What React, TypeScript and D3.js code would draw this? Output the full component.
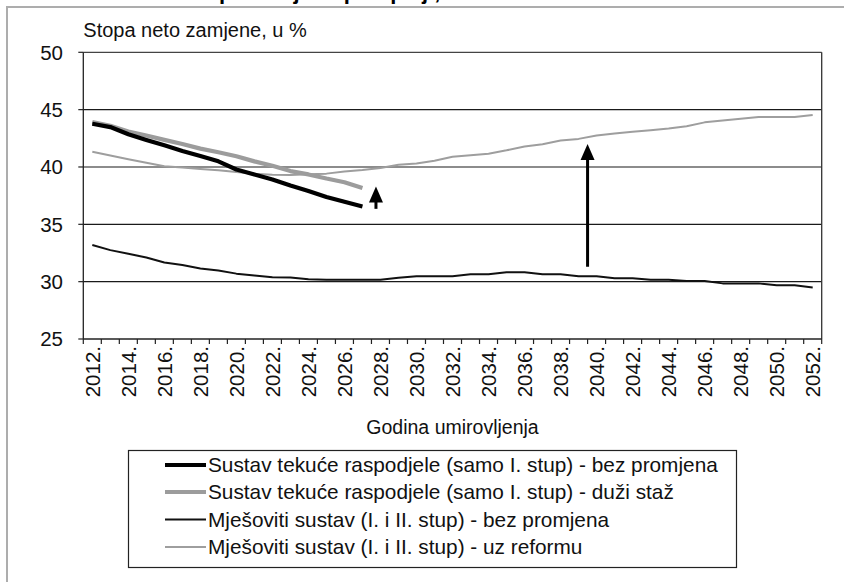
import React from 'react';
import * as d3 from 'd3';

const years: number[] = [
  2012, 2013, 2014, 2015, 2016, 2017, 2018, 2019, 2020, 2021,
  2022, 2023, 2024, 2025, 2026, 2027, 2028, 2029, 2030, 2031,
  2032, 2033, 2034, 2035, 2036, 2037, 2038, 2039, 2040, 2041,
  2042, 2043, 2044, 2045, 2046, 2047, 2048, 2049, 2050, 2051, 2052,
];

const tickYears: number[] = [
  2012, 2014, 2016, 2018, 2020, 2022, 2024, 2026, 2028, 2030,
  2032, 2034, 2036, 2038, 2040, 2042, 2044, 2046, 2048, 2050, 2052,
];

const yTicks: number[] = [25, 30, 35, 40, 45, 50];

// Sustav tekuće raspodjele - bez promjena (2012-2027)
const paygBase: number[] = [
  43.77, 43.48, 42.86, 42.36, 41.89, 41.4, 40.96, 40.49, 39.78, 39.35,
  38.91, 38.38, 37.91, 37.38, 36.97, 36.56,
];
// Sustav tekuće raspodjele - duži staž (2012-2027)
const paygLonger: number[] = [
  43.92, 43.59, 43.1, 42.74, 42.36, 42.01, 41.6, 41.28, 40.93, 40.49,
  40.11, 39.64, 39.35, 38.99, 38.67, 38.17,
];
// Mješoviti sustav - bez promjena (2012-2052)
const mixedBase: number[] = [
  33.19, 32.75, 32.43, 32.11, 31.67, 31.46, 31.14, 30.97, 30.7, 30.53,
  30.38, 30.36, 30.2, 30.17, 30.17, 30.17, 30.17, 30.35, 30.47, 30.47,
  30.47, 30.64, 30.64, 30.82, 30.82, 30.64, 30.64, 30.47, 30.47, 30.29,
  30.29, 30.17, 30.17, 30.06, 30.06, 29.85, 29.85, 29.85, 29.68, 29.68, 29.5,
];
// Mješoviti sustav - uz reformu (2012-2052)
const mixedReform: number[] = [
  41.33, 41.0, 40.68, 40.36, 40.07, 39.95, 39.83, 39.72, 39.57, 39.42,
  39.33, 39.3, 39.36, 39.42, 39.6, 39.74, 39.92, 40.19, 40.3, 40.55,
  40.9, 41.02, 41.16, 41.45, 41.78, 41.98, 42.3, 42.45, 42.74, 42.92,
  43.07, 43.21, 43.36, 43.56, 43.89, 44.06, 44.21, 44.36, 44.36, 44.36, 44.53,
];

const seriesNames: string[] = [
  'Sustav tekuće raspodjele (samo I. stup) - bez promjena',
  'Sustav tekuće raspodjele (samo I. stup) - duži staž',
  'Mješoviti sustav (I. i II. stup) - bez promjena',
  'Mješoviti sustav (I. i II. stup) - uz reformu',
];

// arrows: position (year), start value, end value
const arrowYears: number[] = [2027.75, 2039.5];
const arrowFrom: number[] = [36.35, 31.3];
const arrowTo: number[] = [38.3, 42.0];

const titleText = 'Grafikon 4. Neto stopa zamjene po opciji,';
const yTitle = 'Stopa neto zamjene, u %';
const xTitle = 'Godina umirovljenja';

const W = 844;
const H = 582;
const FONT = '"Liberation Sans", Arial, sans-serif';

export default function App() {
  const left = 83.3;
  const right = 821.7;
  const top = 52.3;
  const bottom = 339;

  const x = d3
    .scaleBand<string>()
    .domain(years.map(String))
    .range([left, right])
    .padding(0);
  const bw = x.bandwidth();
  const cx = (yr: number) => (x(String(yr)) as number) + bw / 2;
  const xLin = d3
    .scaleLinear()
    .domain([years[0], years[years.length - 1]])
    .range([cx(years[0]), cx(years[years.length - 1])]);
  const y = d3.scaleLinear().domain([25, 50]).range([bottom, top]);

  const lineGen = d3
    .line<[number, number]>()
    .x((d) => cx(d[0]))
    .y((d) => y(d[1]));

  const toPts = (vals: number[]) =>
    vals.map((v, i) => [years[i], v] as [number, number]);

  const series = [
    { vals: paygBase, color: '#000000', width: 4.2 },
    { vals: paygLonger, color: '#9c9c9c', width: 4.2 },
    { vals: mixedBase, color: '#111111', width: 2 },
    { vals: mixedReform, color: '#9e9e9e', width: 2 },
  ];
  const drawOrder = [3, 2, 1, 0];

  const boundaries = years.map((yr) => x(String(yr)) as number).concat([right]);

  const legX = 128.5;
  const legY = 450.5;
  const legW = 608;
  const legH = 117;
  const rowY = [465, 492, 519.5, 547];

  return (
    <svg
      width={W}
      height={H}
      style={{ position: 'absolute', left: 0, top: 0, display: 'block', background: '#fff' }}
      fontFamily={FONT}
    >
      <rect x={0} y={0} width={W} height={H} fill="#fff" />
      {/* title, cut by the top edge as in the source */}
      <text x={10} y={-1} fontSize={22} fontWeight="bold" fill="#000">
        {titleText}
      </text>
      {/* outer frame */}
      <line x1={6} x2={W} y1={7} y2={7} stroke="#adadad" strokeWidth={2} />
      <line x1={7} x2={7} y1={6} y2={H} stroke="#adadad" strokeWidth={2} />

      {/* gridlines */}
      {yTicks
        .filter((t) => t !== 25 && t !== 50)
        .map((t) => (
          <line key={'g' + t} x1={left} x2={right} y1={y(t)} y2={y(t)} stroke="#1a1a1a" strokeWidth={1.2} />
        ))}
      {/* plot frame */}
      <line x1={left} x2={right} y1={top} y2={top} stroke="#444" strokeWidth={1.3} />
      <line x1={right} x2={right} y1={top} y2={bottom} stroke="#333" strokeWidth={1.3} />
      <line x1={left} x2={right} y1={bottom} y2={bottom} stroke="#222" strokeWidth={1.3} />
      <line x1={left} x2={left} y1={top} y2={bottom} stroke="#222" strokeWidth={1.3} />

      {/* y ticks & labels */}
      {yTicks.map((t) => (
        <g key={'y' + t}>
          <line x1={left - 5} x2={left} y1={y(t)} y2={y(t)} stroke="#222" strokeWidth={1.2} />
          <text x={63} y={y(t)} dy="0.36em" textAnchor="end" fontSize={20.5} fill="#111">
            {t}
          </text>
        </g>
      ))}

      {/* x ticks */}
      {boundaries.map((b, i) => (
        <line key={'xt' + i} x1={b} x2={b} y1={bottom} y2={bottom + 5} stroke="#222" strokeWidth={1.2} />
      ))}
      {tickYears.map((yr) => (
        <text
          key={'xl' + yr}
          transform={`translate(${cx(yr)},${bottom + 7}) rotate(-90)`}
          textAnchor="end"
          dy="0.36em"
          fontSize={20.5}
          fill="#111"
        >
          {yr + '.'}
        </text>
      ))}

      {/* axis titles */}
      <text x={left} y={37} fontSize={20} fill="#111">
        {yTitle}
      </text>
      <text x={(left + right) / 2} y={434} textAnchor="middle" fontSize={19.5} fill="#111">
        {xTitle}
      </text>

      {/* series */}
      {drawOrder.map((si) => {
        const s = series[si];
        return (
          <path
            key={'s' + si}
            d={lineGen(toPts(s.vals)) || ''}
            fill="none"
            stroke={s.color}
            strokeWidth={s.width}
            strokeLinejoin="round"
          />
        );
      })}

      {/* arrows */}
      {arrowYears.map((ay, i) => {
        const ax = xLin(ay);
        const y0 = y(arrowFrom[i]);
        const y1 = y(arrowTo[i]);
        const headL = 16;
        const headW = 7;
        return (
          <g key={'a' + i}>
            <line x1={ax} x2={ax} y1={y0} y2={y1 + headL - 1} stroke="#000" strokeWidth={3} />
            <path
              d={`M${ax},${y1} L${ax - headW},${y1 + headL} L${ax + headW},${y1 + headL} Z`}
              fill="#000"
            />
          </g>
        );
      })}

      {/* legend */}
      <rect x={legX} y={legY} width={legW} height={legH} fill="#fff" stroke="#222" strokeWidth={1.2} />
      {series.map((s, i) => (
        <g key={'l' + i}>
          <line x1={165} x2={206} y1={rowY[i]} y2={rowY[i]} stroke={s.color} strokeWidth={s.width} />
          <text x={208} y={rowY[i]} dy="0.36em" fontSize={20.8} fill="#111">
            {seriesNames[i]}
          </text>
        </g>
      ))}
    </svg>
  );
}
